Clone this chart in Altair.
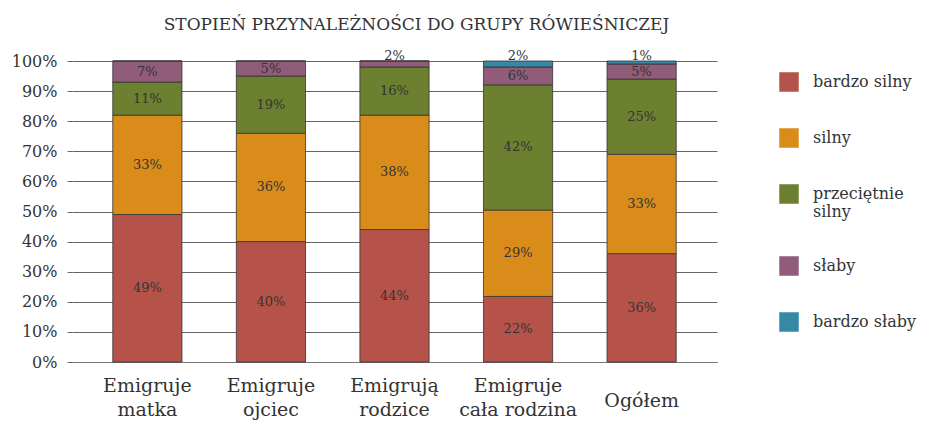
import altair as alt
import pandas as pd

categories = ["Emigruje matka", "Emigruje ojciec", "Emigrują rodzice", "Emigruje cała rodzina", "Ogółem"]
series = ["bardzo silny", "silny", "przeciętnie silny", "słaby", "bardzo słaby"]
bardzo_silny = [49, 40, 44, 22, 36]
silny = [33, 36, 38, 29, 33]
przecietnie_silny = [11, 19, 16, 42, 25]
slaby = [7, 5, 2, 6, 5]
bardzo_slaby = [0, 0, 0, 2, 1]
colors = ["#B5534A", "#D98C1A", "#6C8030", "#915C7A", "#3589A5"]
y_ticks = [0, 0.1, 0.2, 0.3, 0.4, 0.5, 0.6, 0.7, 0.8, 0.9, 1.0]

vals = [bardzo_silny, silny, przecietnie_silny, slaby, bardzo_slaby]
rows = []
for si, s in enumerate(series):
    for ci, c in enumerate(categories):
        rows.append({"cat": c, "series": s, "order": si, "value": vals[si][ci]})
df = pd.DataFrame(rows)

FONT = "DejaVu Serif"

base = alt.Chart(df).transform_stack(
    stack="value", groupby=["cat"], sort=[alt.SortField("order")],
    as_=["y0", "y1"], offset="normalize"
).transform_calculate(
    mid="(datum.y0 + datum.y1) / 2",
    label="datum.value + '%'"
)

xaxis = alt.Axis(labelAngle=0, labelFontSize=19, labelFont=FONT, labelColor="#333",
                 labelExpr="indexof(datum.label, ' ') > 0 ? [slice(datum.label, 0, indexof(datum.label, ' ')), slice(datum.label, indexof(datum.label, ' ') + 1)] : datum.label",
                 labelLineHeight=24,
                 labelPadding={"condition": {"test": "datum.label == 'Ogółem'", "value": 29}, "value": 14},
                 ticks=False, domainColor="#777", domainWidth=1.2, labelLimit=200, grid=False)
yaxis = alt.Axis(format=".0%", values=y_ticks, labelFontSize=16, labelFont=FONT, labelColor="#333",
                 grid=True, gridColor="#666", gridWidth=1, domain=False, tickSize=5,
                 tickColor="#666", labelPadding=10, labelOverlap=False, tickCount=11)
xscale = alt.Scale(paddingInner=0.44, paddingOuter=0.33)
yscale = alt.Scale(domain=[0, 1])

def X():
    return alt.X("cat:N", sort=categories, title=None, scale=xscale, axis=xaxis)

bars = base.mark_bar(stroke="#333", strokeWidth=0.8).encode(
    x=X(),
    y=alt.Y("y0:Q", title=None, scale=yscale, axis=yaxis),
    y2="y1:Q",
    color=alt.Color("series:N", sort=series, scale=alt.Scale(domain=series, range=colors),
                    legend=alt.Legend(title=None, orient="none", legendX=707, legendY=11,
                                      symbolType="square", symbolSize=380, symbolStrokeWidth=0,
                                      symbolOpacity=1, labelFontSize=16, labelFont=FONT,
                                      labelColor="#333", labelOffset=14, rowPadding=36,
                                      labelExpr="datum.label == 'przeciętnie silny' ? ['przeciętnie', 'silny'] : datum.label",
                                      labelLimit=200)),
    order=alt.Order("order:Q"),
)

text_big = base.transform_filter("datum.value > 2").mark_text(
    font=FONT, fontSize=13, color="#333", baseline="middle"
).encode(x=X(), y=alt.Y("mid:Q", title=None, scale=yscale, axis=yaxis), text="label:N")

text_small = base.transform_filter("datum.value > 0 && datum.value <= 2").mark_text(
    font=FONT, fontSize=13, color="#333", baseline="middle", dy=-5
).encode(x=X(), y=alt.Y("y1:Q", title=None, scale=yscale, axis=yaxis), text="label:N")

chart = alt.layer(bars, text_big, text_small).properties(
    width=645, height=301,
    autosize=alt.AutoSizeParams(type="none"),
    padding={"left": 64, "top": 53, "right": 202, "bottom": 58},
    title=alt.TitleParams("STOPIEŃ PRZYNALEŻNOŚCI DO GRUPY RÓWIEŚNICZEJ", font=FONT,
                          fontSize=17, fontWeight="normal", color="#333", offset=16, dx=22),
).configure(font=FONT).configure_view(stroke=None)

chart.save("out.html", embed_options={"renderer": "svg", "actions": False})
